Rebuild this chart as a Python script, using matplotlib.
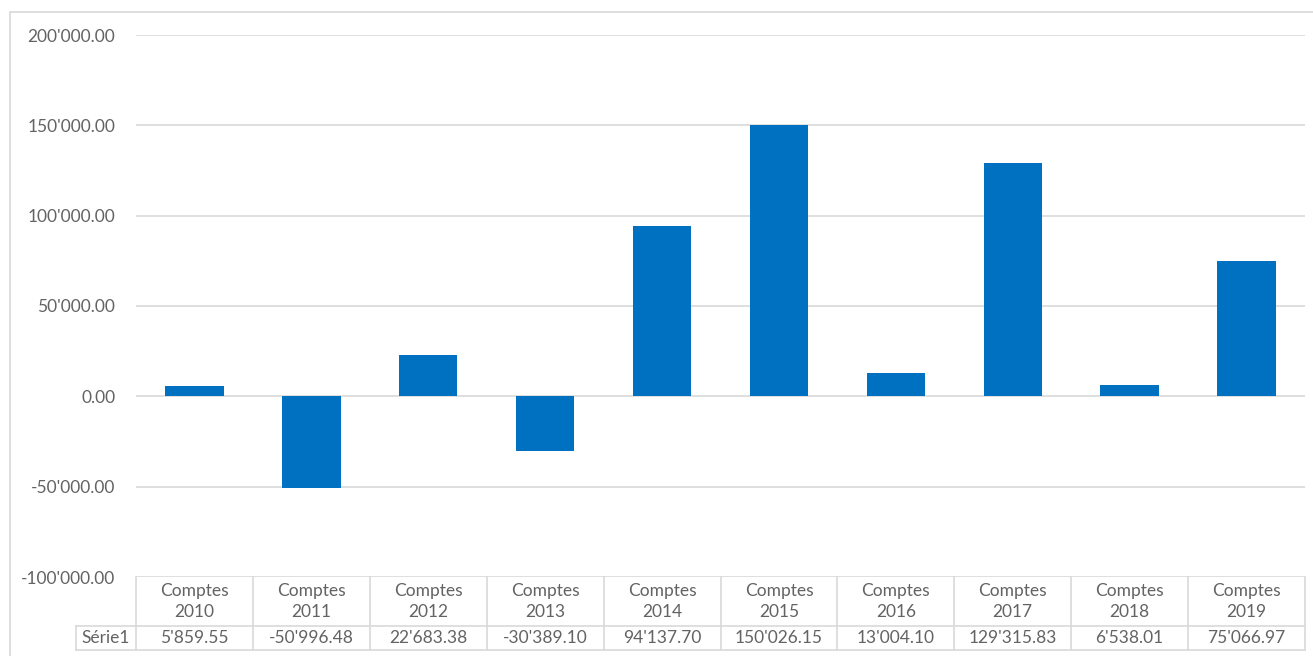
import matplotlib
matplotlib.use("Agg")
import matplotlib.pyplot as plt
from matplotlib.patches import Rectangle
from matplotlib.transforms import blended_transform_factory

categories = ["Comptes\n2010", "Comptes\n2011", "Comptes\n2012", "Comptes\n2013",
              "Comptes\n2014", "Comptes\n2015", "Comptes\n2016", "Comptes\n2017",
              "Comptes\n2018", "Comptes\n2019"]
values = [5859.55, -50996.48, 22683.38, -30389.10, 94137.70,
          150026.15, 13004.10, 129315.83, 6538.01, 75066.97]
series_name = "Série1"
yticks = [-100000, -50000, 0, 50000, 100000, 150000, 200000]

FONT = ["Lato", "DejaVu Sans"]
GREY = "#636363"
LINE = "#D9D9D9"


def fmt(v):
    s = "{:,.2f}".format(v)
    return s.replace(",", "'")


W, H = 1313, 656
fig = plt.figure(figsize=(W / 100, H / 100), dpi=100)
fig.patches.append(Rectangle((10 / W, -0.1), 1.2, (656 - 12) / H + 0.1,
                             transform=fig.transFigure, fill=False,
                             edgecolor=LINE, linewidth=1.2))

left, right, top, bottom = 136, 1305, 35, 577
ax = fig.add_axes([left / W, 1 - bottom / H, (right - left) / W, (bottom - top) / H])

x = list(range(len(values)))
ax.bar(x, values, width=0.5, color="#0070C0", zorder=3)
ax.set_xlim(-0.5, len(values) - 0.5)
ax.set_ylim(-100000, 200000)
ax.set_yticks(yticks)
ax.set_yticklabels([fmt(v) for v in yticks], fontfamily=FONT, fontsize=12.5, color=GREY)
ax.tick_params(axis="y", length=0, pad=15)
ax.set_xticks([])
for s in ax.spines.values():
    s.set_visible(False)
ax.grid(axis="y", color=LINE, linewidth=1.2, zorder=0)

# data table below the plot
tr = blended_transform_factory(ax.transData, ax.transAxes)
ah = bottom - top
y_head_bot = -(626 - bottom) / ah
y_row_bot = -(650 - bottom) / ah
x_lab = -0.5 - 60 / ((right - left) / len(values))
txt = dict(transform=tr, ha="center", va="center", fontfamily=FONT,
           fontsize=12.5, color=GREY)

for i, (c, v) in enumerate(zip(categories, values)):
    ax.text(i, (0 + y_head_bot) / 2, c, linespacing=1.45, **txt)
    ax.text(i, (y_head_bot + y_row_bot) / 2, fmt(v), **txt)
ax.text((x_lab - 0.5) / 2, (y_head_bot + y_row_bot) / 2, series_name, **txt)

kw = dict(transform=tr, color=LINE, linewidth=1.2, clip_on=False)
for b in [i - 0.5 for i in range(len(values) + 1)]:
    ax.plot([b, b], [0, y_row_bot], **kw)
ax.plot([x_lab, x_lab], [y_head_bot, y_row_bot], **kw)
ax.plot([x_lab, len(values) - 0.5], [y_head_bot, y_head_bot], **kw)
ax.plot([x_lab, len(values) - 0.5], [y_row_bot, y_row_bot], **kw)

fig.savefig("out.png", dpi=100, facecolor="white")
